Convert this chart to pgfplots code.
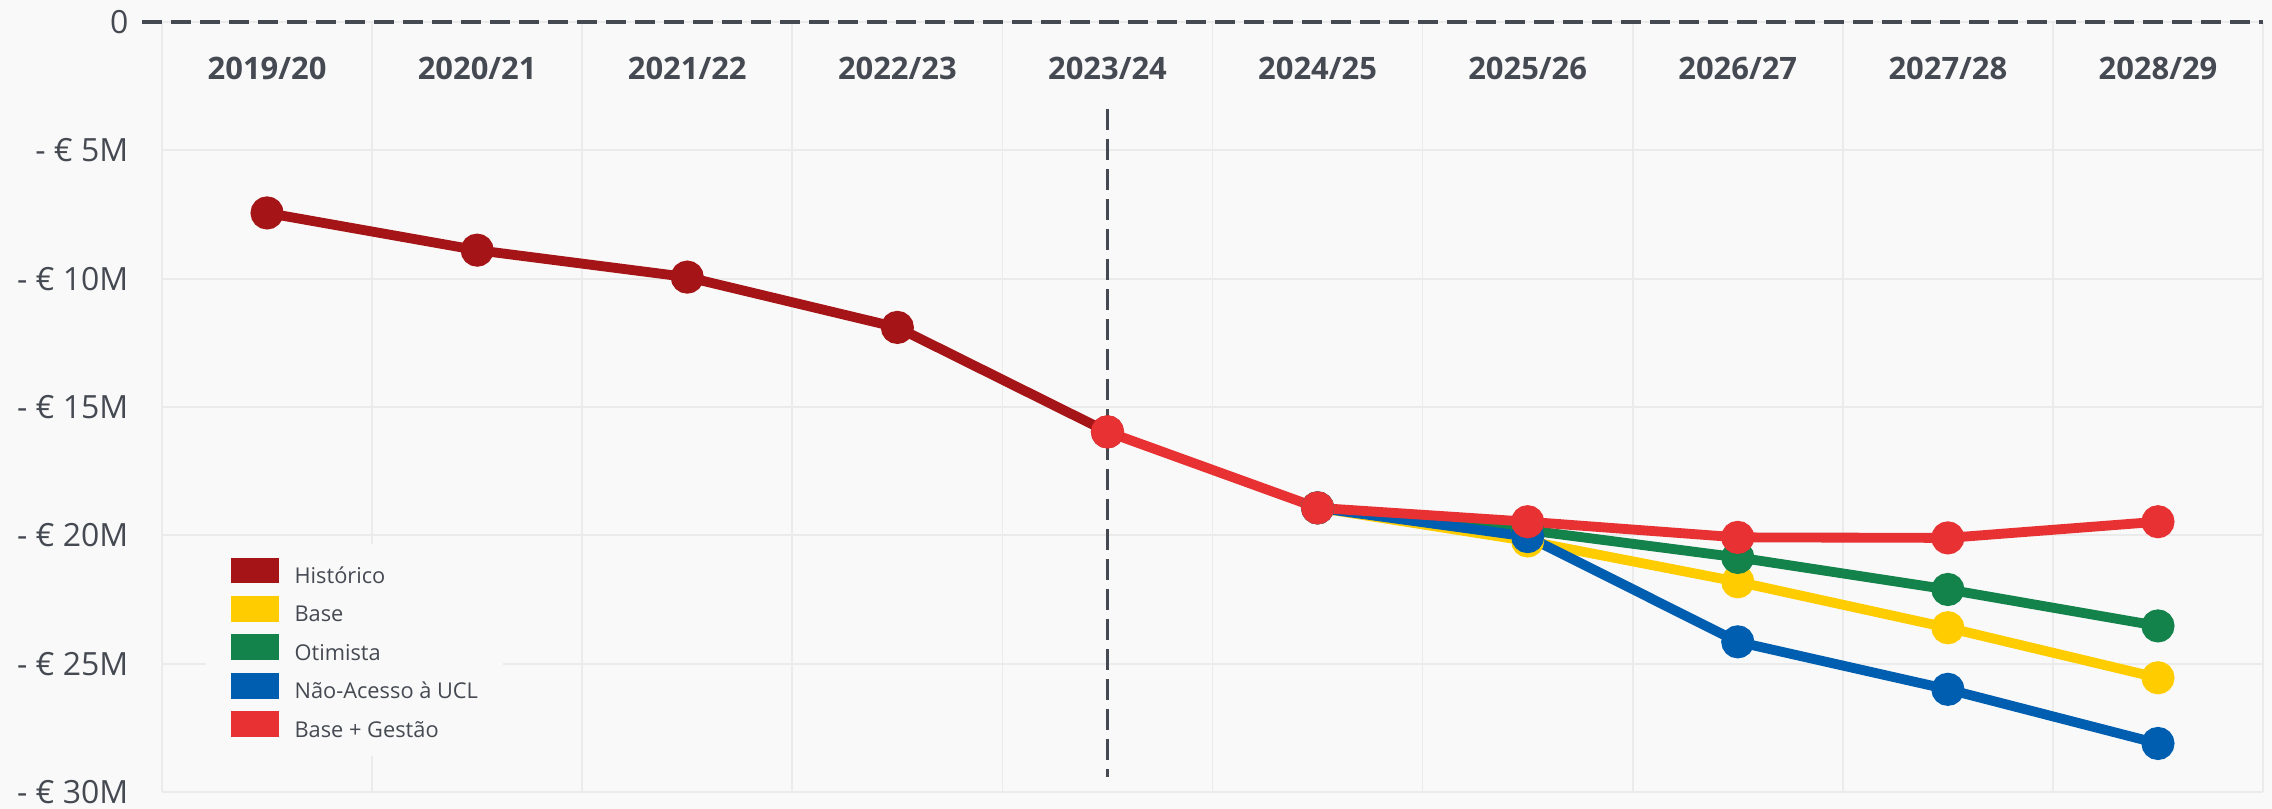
\documentclass[border=0pt]{standalone}
\usepackage{pgfplots}
\pgfplotsset{compat=1.18}
\usepackage{fontspec}
\setmainfont{Open Sans}
\definecolor{bg}{HTML}{F9F9F9}
\definecolor{txt}{HTML}{454952}
\definecolor{gridc}{HTML}{EBEBEB}
\definecolor{cHist}{HTML}{A51416}
\definecolor{cBase}{HTML}{FFCC00}
\definecolor{cOtim}{HTML}{13824B}
\definecolor{cNao}{HTML}{005EB0}
\definecolor{cGest}{HTML}{E83132}
\begin{document}
\begin{tikzpicture}
\path[use as bounding box, fill=bg] (-16.2mm,-1.7mm) rectangle (211mm,79.2mm);
\begin{axis}[
  at={(0,0)}, anchor=south west,
  scale only axis, width=210.1mm, height=77mm,
  xmin=-0.5, xmax=9.5, ymin=-30, ymax=0,
  axis line style={draw=none},
  tick style={draw=none},
  major tick length=0pt, minor tick length=0pt,
  xtick={0,1,2,3,4,5,6,7,8,9},
  xticklabels={2019/20,2020/21,2021/22,2022/23,2023/24,2024/25,2025/26,2026/27,2027/28,2028/29},
  xticklabel pos=upper,
  xticklabel style={font=\fontsize{8.8}{10}\selectfont\bfseries, text=txt, anchor=center, yshift=-4.6mm},
  minor xtick={-0.5,0.5,1.5,2.5,3.5,4.5,5.5,6.5,7.5,8.5,9.5},
  xminorgrids=true, xmajorgrids=false,
  ytick={-30,-25,-20,-15,-10,-5,0},
  yticklabels={- € 30M,- € 25M,- € 20M,- € 15M,- € 10M,- € 5M,0},
  ymajorgrids=true,
  grid style={gridc, line width=0.5pt},
  minor grid style={gridc, line width=0.5pt},
  yticklabel style={font=\fontsize{9.1}{11}\selectfont, text=txt, anchor=east, inner xsep=0pt, xshift=-3.3mm},
  clip=false,
  every axis plot/.append style={line width=2.8pt, mark=*, mark size=3.3pt, mark options={solid}},
  legend image code/.code={\fill[#1] (0mm,-0.05mm) rectangle (3.8mm,1.55mm);},
  legend cell align=left,
  legend style={at={(0.0205,0.0455)}, anchor=south west, draw=none, fill=bg,
    inner xsep=2.5mm, inner ysep=1.4mm,
    font=\fontsize{6.2}{7}\selectfont, text=txt,
    nodes={inner sep=0pt, text height=1.6mm, text depth=0.5mm},
    row sep=0.75mm,
    /tikz/every odd column/.append style={column sep=1.6mm}},
]
\addplot[cHist] coordinates {(0,-7.44) (1,-8.89) (2,-9.94) (3,-11.9) (4,-15.97)};
\addlegendentry{Histórico}
\addplot[cBase] coordinates {(5,-18.93) (6,-20.22) (7,-21.81) (8,-23.6) (9,-25.55)};
\addlegendentry{Base}
\addplot[cOtim] coordinates {(5,-18.93) (6,-19.8) (7,-20.86) (8,-22.11) (9,-23.53)};
\addlegendentry{Otimista}
\addplot[cNao] coordinates {(5,-18.93) (6,-20.05) (7,-24.15) (8,-26.0) (9,-28.11)};
\addlegendentry{Não-Acesso à UCL}
\addplot[cGest] coordinates {(4,-15.97) (5,-18.93) (6,-19.47) (7,-20.08) (8,-20.1) (9,-19.47)};
\addlegendentry{Base + Gestão}
\draw[txt, line width=0.9pt, dash pattern=on 2mm off 0.9mm] (axis cs:-0.595,0) -- (axis cs:9.5,0);
\draw[txt, line width=0.8pt, dash pattern=on 2.1mm off 0.9mm] (axis cs:4,-3.4) -- (axis cs:4,-29.4);
\end{axis}
\end{tikzpicture}
\end{document}
